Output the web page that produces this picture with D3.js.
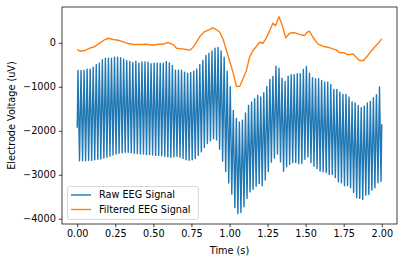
<!DOCTYPE html>
<html>
<head>
<meta charset="utf-8">
<script src="https://cdn.jsdelivr.net/npm/d3@7"></script>
<style>
  html, body { margin: 0; padding: 0; background: #fff; }
  text { font-family: "DejaVu Sans", sans-serif; }
</style>
</head>
<body>
<div id="chart"></div>
<script>
// raw signal: one peak and one trough per 50 Hz cycle
const rawStart = -1930;
const rawEnd = -1850;
const rawPeaks = [
  -628, -628, -628, -598, -598, -553, -500, -462, -386, -349, -349, -349, -326, -326, -340, -372, -408,
  -424, -447, -417, -462, -432, -432, -440, -477, -462, -462, -462, -462, -424, -455, -515, -621,
  -621, -621, -666, -689, -673, -643, -598, -500, -401, -288, -235, -182, -122, -107, -182, -326, -645,
  -1000, -1535, -1717, -1800, -1760, -1596, -1422, -1347, -1270, -1195, -1232, -1134, -991, -832, -764, -530,
  -576, -802, -877, -757, -726, -726, -703, -703, -605, -537, -689, -794, -817, -817, -855, -893, -893,
  -945, -1059, -1059, -1120, -1172, -1172, -1233, -1346, -1369, -1422, -1474, -1437, -1369, -1331, -1248, -1180, -1006
];
const rawTroughs = [
  -2680, -2680, -2680, -2670, -2670, -2660, -2650, -2640, -2620, -2600, -2580, -2550, -2530, -2510, -2500,
  -2490, -2490, -2500, -2510, -2520, -2530, -2530, -2540, -2540, -2550, -2560, -2560, -2570, -2580, -2590,
  -2600, -2590, -2580, -2600, -2630, -2660, -2670, -2660, -2630, -2560, -2480, -2380, -2290, -2230, -2180, -2210,
  -2420, -2690, -2930, -3190, -3440, -3750, -3880, -3860, -3730, -3540, -3390, -3330, -3260, -3200, -3250,
  -3120, -2930, -2710, -2620, -2530,
  -2707, -2918, -2821, -2760, -2721, -2721, -2744, -2744, -2646, -2594, -2721, -2805, -2857, -2918, -2934,
  -2948, -2993, -2993, -3061, -3161, -3183, -3252, -3252, -3297, -3401, -3523, -3537, -3560, -3463, -3447,
  -3349, -3297, -3183, -3150
];
const cycle = 0.02; // seconds

const filtTime = [
  0, 0.018, 0.05, 0.083, 0.116, 0.149, 0.182, 0.204, 0.236, 0.269, 0.302, 0.334, 0.367, 0.411, 0.455,
  0.498, 0.531, 0.564, 0.597, 0.630, 0.652, 0.685, 0.717, 0.739, 0.761, 0.783, 0.805, 0.837, 0.870, 0.888,
  0.914, 0.936, 0.957, 0.980, 1.001, 1.023, 1.045, 1.067, 1.089, 1.111, 1.132, 1.154, 1.176, 1.198, 1.220,
  1.242, 1.264, 1.285, 1.303, 1.325, 1.347, 1.369, 1.395, 1.428, 1.461, 1.493, 1.508, 1.526, 1.548, 1.580,
  1.613, 1.646, 1.679, 1.701, 1.723, 1.755, 1.777, 1.810, 1.832, 1.854, 1.880, 1.908, 1.930, 1.952, 1.974, 2.0
];
const filtValue = [
  -152, -190, -175, -122, -84, 0, 75, 104, 75, 59, 23, -16, -39, -39, -31,
  -54, -31, -31, 7, -39, -122, -137, -152, -167, -99, 14, 143, 256, 302, 340,
  302, 240, 90, -175, -420, -666, -991, -991, -816, -628, -326, -175, -84, 14, -9,
  113, 279, 445, 392, 596, 392, 113, 218, 234, 188, 166, 240, 263, 127, -23,
  -77, -99, -137, -160, -227, -227, -272, -250, -326, -401, -401, -288, -190, -99, -23, 90
];

const xTicks = [0, 0.25, 0.5, 0.75, 1.0, 1.25, 1.5, 1.75, 2.0];
const yTicks = [0, -1000, -2000, -3000, -4000];
const seriesNames = ["Raw EEG Signal", "Filtered EEG Signal"];
const seriesColours = ["#1f77b4", "#ff7f0e"];

// build the raw series
const raw = [{ t: 0, v: rawStart }];
rawPeaks.forEach((p, i) => {
  raw.push({ t: cycle * i + cycle / 4, v: p });
  raw.push({ t: cycle * i + 3 * cycle / 4, v: rawTroughs[i] });
});
raw.push({ t: 2.0, v: rawEnd });
const filt = filtTime.map((t, i) => ({ t: t, v: filtValue[i] }));

const width = 404, height = 262;
const plotLeft = 62, plotRight = 397, plotTop = 7, plotBottom = 224;
const fs = 9.7;

const x = d3.scaleLinear().domain([-0.1, 2.1]).range([plotLeft, plotRight]);
const y = d3.scaleLinear().domain([-4120, 815]).range([plotBottom, plotTop]);

const svg = d3.select("#chart").append("svg")
  .attr("width", width)
  .attr("height", height);

const line = d3.line().x(d => x(d.t)).y(d => y(d.v));

svg.append("path")
  .datum(raw)
  .attr("d", line)
  .attr("fill", "none")
  .attr("stroke", seriesColours[0])
  .attr("stroke-width", 1.4)
  .attr("stroke-linejoin", "round");

svg.append("path")
  .datum(filt)
  .attr("d", line)
  .attr("fill", "none")
  .attr("stroke", seriesColours[1])
  .attr("stroke-width", 1.4)
  .attr("stroke-linejoin", "round");

// axes
const xAxis = svg.append("g")
  .attr("transform", `translate(0,${plotBottom})`)
  .call(d3.axisBottom(x).tickValues(xTicks).tickFormat(d3.format(".2f")).tickSize(3.2).tickPadding(3).tickSizeOuter(0));

const yAxis = svg.append("g")
  .attr("transform", `translate(${plotLeft},0)`)
  .call(d3.axisLeft(y).tickValues(yTicks).tickFormat(d3.format("d")).tickSize(3.2).tickPadding(3).tickSizeOuter(0));

[xAxis, yAxis].forEach(g => {
  g.select(".domain").remove();
  g.selectAll("line").attr("stroke", "#000").attr("stroke-width", 0.75);
  g.selectAll("text").attr("font-size", fs).attr("fill", "#000").attr("font-family", "DejaVu Sans");
});

svg.append("rect")
  .attr("x", plotLeft).attr("y", plotTop)
  .attr("width", plotRight - plotLeft).attr("height", plotBottom - plotTop)
  .attr("fill", "none")
  .attr("stroke", "#000")
  .attr("stroke-width", 0.75);

// axis labels
svg.append("text")
  .attr("x", (plotLeft + plotRight) / 2)
  .attr("y", 254)
  .attr("text-anchor", "middle")
  .attr("font-size", fs)
  .text("Time (s)");

svg.append("text")
  .attr("transform", `translate(14.5,${(plotTop + plotBottom) / 2}) rotate(-90)`)
  .attr("text-anchor", "middle")
  .attr("font-size", fs)
  .text("Electrode Voltage (uV)");

// legend
const legend = svg.append("g");
legend.append("rect")
  .attr("x", 67.5).attr("y", 186.5)
  .attr("width", 131).attr("height", 33)
  .attr("rx", 2.5)
  .attr("fill", "#fff").attr("fill-opacity", 0.8)
  .attr("stroke", "#ccc").attr("stroke-width", 0.75);

seriesNames.forEach((name, i) => {
  const ly = 195 + i * 14.5;
  legend.append("line")
    .attr("x1", 71).attr("x2", 91)
    .attr("y1", ly).attr("y2", ly)
    .attr("stroke", seriesColours[i])
    .attr("stroke-width", 1.4);
  legend.append("text")
    .attr("x", 99).attr("y", ly)
    .attr("dy", "0.35em")
    .attr("font-size", fs)
    .text(name);
});
</script>
</body>
</html>
